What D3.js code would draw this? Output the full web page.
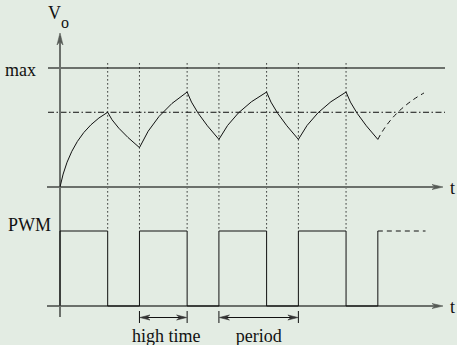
<!DOCTYPE html>
<html lang="en">
<head>
<meta charset="UTF-8"/>
<title>PWM output</title>
<script src="https://d3js.org/d3.v7.min.js"></script>
<style>
    body { margin: 0; background: #e3ece3; }
    svg { display: block; }
    text { font-family: "Liberation Serif", "Times New Roman", serif; font-size: 18px; fill: #111; }
    .axis { stroke: #6b706b; stroke-width: 2px; fill: none; }
    .ink { stroke: #111; stroke-width: 1px; fill: none; }
</style>
</head>
<body>
<svg width="457" height="345"></svg>
<script>
// switching instants (time units) and PWM level after each one
var edges = [0, 3, 5, 8, 10, 13, 15, 18, 20];
var pwmLevel = [1, 0, 1, 0, 1, 0, 1, 0, 1];
var pwmDashedEnd = 23;
// Vo at each switching instant, then the dashed continuation
var voKnots = [0, 0.628, 0.331, 0.798, 0.40, 0.798, 0.40, 0.798, 0.40];
var voDashed = [[20, 0.40], [22.9, 0.79]];
var maxLevel = 1, refLevel = 0.628;
var dottedAt = [3, 5, 8, 10, 13, 15, 18];
var highTime = [5, 8], period = [10, 15];

var svg = d3.select("svg");
var x = d3.scaleLinear().domain([0, 24.1]).range([60, 443]);
var yV = d3.scaleLinear().domain([0, 1]).range([187, 68]);
var yP = d3.scaleLinear().domain([0, 1]).range([306, 231]);

function arrowHead(g, tx, ty, dir, len, half, color) {
    // dir: angle in degrees of where the arrow points
    g.append("path")
        .attr("d", "M0,0L" + (-len) + "," + (-half) + "L" + (-len * 0.7) + ",0L" + (-len) + "," + half + "Z")
        .attr("transform", "translate(" + tx + "," + ty + ") rotate(" + dir + ")")
        .attr("fill", color)
        .attr("stroke", color)
        .attr("stroke-width", 0.6);
}

// reference lines
svg.append("line").attr("class", "axis")
    .attr("x1", 48).attr("x2", 445).attr("y1", yV(maxLevel)).attr("y2", yV(maxLevel));
svg.append("line").attr("class", "ink")
    .attr("x1", 48).attr("x2", 445).attr("y1", yV(refLevel)).attr("y2", yV(refLevel))
    .attr("stroke-dasharray", "6,2.5,1.5,2.5");

// dotted switching markers
svg.selectAll(".mark").data(dottedAt).enter().append("line")
    .attr("class", "ink mark")
    .attr("x1", function(d) { return x(d); })
    .attr("x2", function(d) { return x(d); })
    .attr("y1", yV(1.04))
    .attr("y2", yP(1))
    .attr("stroke-dasharray", "1.3,2.7");

// axes
svg.append("line").attr("class", "axis")
    .attr("x1", x(0)).attr("x2", x(0)).attr("y1", 36).attr("y2", 317);
arrowHead(svg, x(0), 33, -90, 12, 3, "#555a55");
[yV(0), yP(0)].forEach(function(y0) {
    svg.append("line").attr("class", "axis")
        .attr("x1", 47).attr("x2", 438).attr("y1", y0).attr("y2", y0);
    arrowHead(svg, 443, y0, 0, 11, 2.5, "#555a55");
});

// PWM waveform
var pwm = d3.path();
pwm.moveTo(x(edges[0]), yP(0));
edges.forEach(function(t, i) {
    var prev = i === 0 ? 0 : pwmLevel[i - 1];
    pwm.lineTo(x(t), yP(prev));
    pwm.lineTo(x(t), yP(pwmLevel[i]));
});
svg.append("path").attr("class", "ink").attr("d", pwm.toString());
svg.append("line").attr("class", "ink")
    .attr("x1", x(edges[edges.length - 1])).attr("x2", x(pwmDashedEnd))
    .attr("y1", yP(1)).attr("y2", yP(1))
    .attr("stroke-dasharray", "5,4");

// Vo waveform, each segment bent like an RC charge / discharge
function segment(p, t0, v0, t1, v1) {
    var x0 = x(t0), y0 = yV(v0), x1 = x(t1), y1 = yV(v1);
    var a, b;
    if (v1 > v0) { a = v0 === 0 ? 0.23 : 0.32; b = v0 === 0 ? 0.72 : 0.62; }
    else { a = 0.2; b = 0.4; }
    p.quadraticCurveTo(x0 + a * (x1 - x0), y0 + b * (y1 - y0), x1, y1);
}
var vo = d3.path();
vo.moveTo(x(edges[0]), yV(voKnots[0]));
for (var i = 1; i < voKnots.length; i++) {
    segment(vo, edges[i - 1], voKnots[i - 1], edges[i], voKnots[i]);
}
svg.append("path").attr("class", "ink").attr("d", vo.toString());

var vd = d3.path();
vd.moveTo(x(voDashed[0][0]), yV(voDashed[0][1]));
segment(vd, voDashed[0][0], voDashed[0][1], voDashed[1][0], voDashed[1][1]);
svg.append("path").attr("class", "ink").attr("d", vd.toString())
    .attr("stroke-dasharray", "5,4");

// dimension arrows
[highTime, period].forEach(function(span) {
    var xa = x(span[0]), xb = x(span[1]), ya = 317.5;
    [xa, xb].forEach(function(xx) {
        svg.append("line").attr("class", "ink")
            .attr("x1", xx).attr("x2", xx).attr("y1", 311).attr("y2", 323);
    });
    svg.append("line").attr("class", "ink").attr("stroke", "#333")
        .attr("x1", xa + 4).attr("x2", xb - 4).attr("y1", ya).attr("y2", ya);
    arrowHead(svg, xa + 0.5, ya, 180, 10, 2.5, "#333");
    arrowHead(svg, xb - 0.5, ya, 0, 10, 2.5, "#333");
});

// labels
var vl = svg.append("text").attr("x", 48).attr("y", 19);
vl.append("tspan").text("V");
vl.append("tspan").attr("x", 61).attr("y", 28).style("font-size", "16px").text("o");
svg.append("text").attr("x", 5).attr("y", 76).text("max");
svg.append("text").attr("x", 8).attr("y", 231).text("PWM");
svg.append("text").attr("x", 450).attr("y", yV(0) + 7).text("t");
svg.append("text").attr("x", 450).attr("y", yP(0) + 7).text("t");
svg.append("text").attr("x", 132).attr("y", 342).text("high time");
svg.append("text").attr("x", (x(period[0]) + x(period[1])) / 2).attr("y", 342)
    .attr("text-anchor", "middle").text("period");
</script>
</body>
</html>
